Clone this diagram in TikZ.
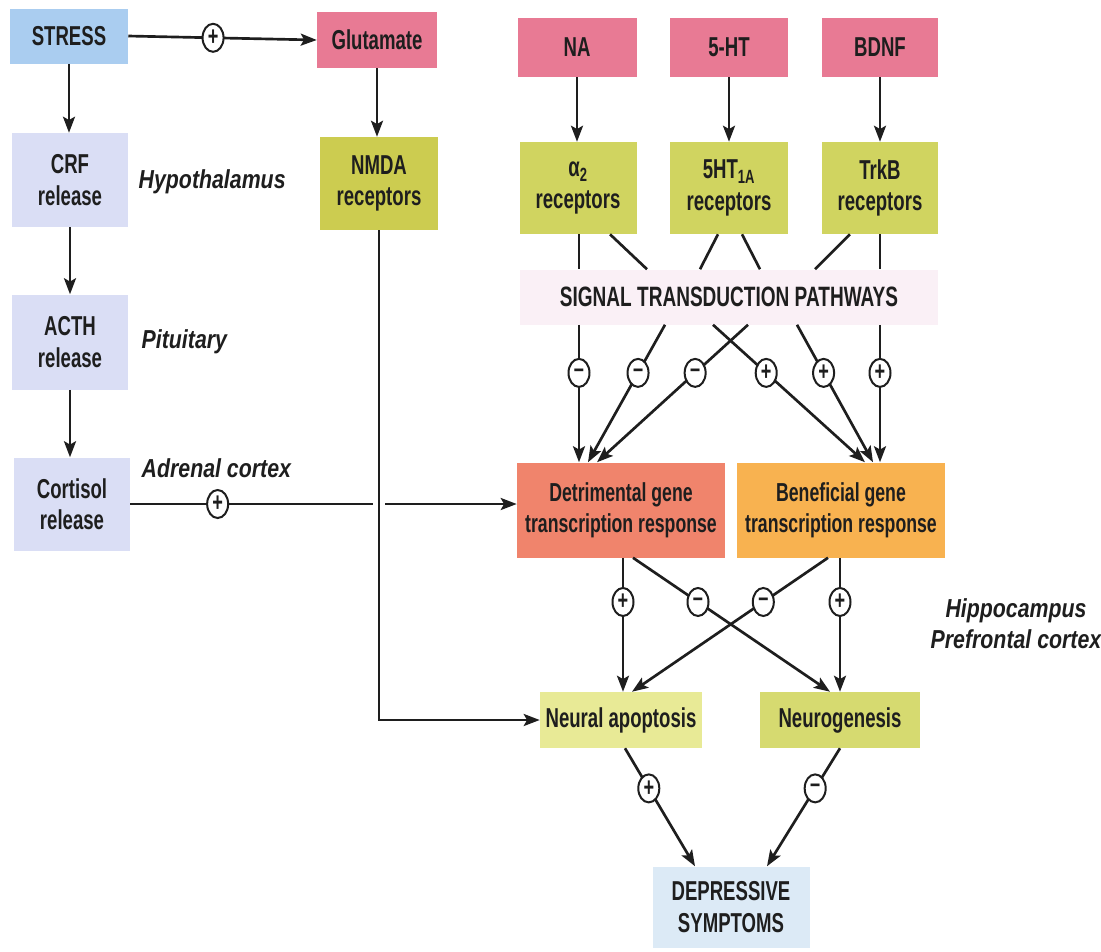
\documentclass[tikz,border=0pt]{standalone}
\usepackage{fontspec}
\setmainfont{Liberation Sans}
\newfontfamily\boxfont{Liberation Sans}[FakeStretch=0.68]
\newfontfamily\labfont{Liberation Sans}[FakeStretch=0.82]
\usetikzlibrary{arrows.meta,shapes.geometric,calc}
\definecolor{stressblue}{RGB}{170,205,240}
\definecolor{hpablue}{RGB}{218,222,245}
\definecolor{pinkred}{RGB}{232,122,148}
\definecolor{olivebox}{RGB}{204,204,80}
\definecolor{recgreen}{RGB}{208,212,96}
\definecolor{stppink}{RGB}{250,240,246}
\definecolor{detred}{RGB}{240,132,108}
\definecolor{benorange}{RGB}{248,178,80}
\definecolor{apopyel}{RGB}{232,234,150}
\definecolor{neurogreen}{RGB}{214,218,112}
\definecolor{depblue}{RGB}{220,234,246}
\definecolor{ink}{RGB}{30,30,30}
\begin{document}
\begin{tikzpicture}[x=0.75pt,y=-0.75pt,
 box/.style={draw=none, inner sep=0pt, align=center, text=ink, font=\boxfont\bfseries\fontsize{20.5}{23.5}\selectfont},
 genebox/.style={box, font=\boxfont\bfseries\fontsize{19.5}{23}\selectfont},
 wh/.style 2 args={minimum width={#1*0.75pt}, minimum height={#2*0.75pt}},
 lab/.style={text=ink, font=\labfont\bfseries\itshape\fontsize{19.5}{23}\selectfont, align=center},
 ln/.style={draw=ink, line width=2pt},
 arr/.style={ln, -{Stealth[length=12pt,width=9pt,inset=2.5pt]}},
 sgn/.style={ellipse, draw=ink, line width=1.5pt, fill=white, inner sep=0pt, minimum width={21*0.75pt}, minimum height={28*0.75pt}, text=ink, font=\boxfont\bfseries\fontsize{20}{20}\selectfont}
]
\fill[white] (0,0) rectangle (1101,951);
\useasboundingbox (0,0) rectangle (1101,951);

% boxes
\node[box, fill=stressblue, wh={118}{55}] (stress) at (69,36) {STRESS};
\node[box, fill=pinkred, wh={120}{56}] (glut) at (377,40) {Glutamate};
\node[box, fill=pinkred, wh={119}{59}] (na) at (577,47.5) {NA};
\node[box, fill=pinkred, wh={118}{59}] (fivht) at (729,47.5) {5-HT};
\node[box, fill=pinkred, wh={116}{59}] (bdnf) at (880,47.5) {BDNF};
\node[box, fill=hpablue, wh={116}{94}] (crf) at (70,180) {CRF\\release};
\node[box, fill=olivebox, wh={118}{93}] (nmda) at (379,183.5) {NMDA\\receptors};
\node[box, fill=recgreen, wh={117}{92}] (a2) at (578,188) {α\textsubscript{2}\\receptors};
\node[box, fill=recgreen, wh={118}{92}] (fivhta) at (729,188) {5HT\textsubscript{1A}\\receptors};
\node[box, fill=recgreen, wh={116}{92}] (trkb) at (880,188) {TrkB\\receptors};
\node[box, fill=stppink, wh={418}{55}, font=\boxfont\bfseries\fontsize{21}{24}\selectfont] (stp) at (729,297) {SIGNAL TRANSDUCTION PATHWAYS};
\node[box, fill=hpablue, wh={116}{95}] (acth) at (70,342) {ACTH\\release};
\node[box, fill=hpablue, wh={116}{93}] (cortisol) at (72,504) {Cortisol\\release};
\node[genebox, fill=detred, wh={208}{95}] (det) at (621,510) {Detrimental gene\\transcription response};
\node[genebox, fill=benorange, wh={208}{95}] (ben) at (841,510) {Beneficial gene\\transcription response};
\node[box, fill=apopyel, wh={162}{56}] (apop) at (621,720) {Neural apoptosis};
\node[box, fill=neurogreen, wh={160}{56}] (neuro) at (840,720) {Neurogenesis};
\node[box, fill=depblue, wh={157}{81}] (dep) at (731,907) {DEPRESSIVE\\SYMPTOMS};

% labels
\node[lab, anchor=west] (hyp) at (134,182) {Hypothalamus};
\node[lab, anchor=west] (pit) at (137,342) {Pituitary};
\node[lab, anchor=west] (adr) at (137,468) {Adrenal cortex};
\node[lab] (hip) at (1016,624) {Hippocampus\\Prefrontal cortex};

% HPA axis
\draw[arr] (stress.east) -- node[sgn, pos=0.45]{+} (glut.west);
\draw[arr] (stress.south) -- (crf.north -| stress.south);
\draw[arr] (crf.south) -- (acth.north);
\draw[arr] (acth.south) -- (acth.south |- cortisol.north);
\draw[arr] (glut.south) -- (nmda.north -| glut.south);

% transmitters to receptors
\draw[arr] (na.south) -- (a2.north -| na.south);
\draw[arr] (fivht.south) -- (fivhta.north);
\draw[arr] (bdnf.south) -- (trkb.north);

% NMDA to apoptosis, cortisol with hop
\coordinate (hop) at (cortisol.east -| nmda.south);
\draw[arr] (nmda.south) |- (apop.west);
\draw[ln] (cortisol.east) -- node[sgn, pos=0.36]{+} ($(hop)+(-6,0)$);
\draw[arr] ($(hop)+(6,0)$) -- (hop -| det.west);

% receptors to signal band
\draw[ln] ($(a2.south)+(1,0)$) -- ($(stp.north)+(-150,0)$);
\draw[ln] ($(a2.south)+(32,0)$) -- ($(stp.north)+(-82,0)$);
\draw[ln] ($(fivhta.south)+(-11,0)$) -- ($(stp.north)+(-29,0)$);
\draw[ln] ($(fivhta.south)+(13,0)$) -- ($(stp.north)+(31,0)$);
\draw[ln] ($(trkb.south)+(-30,0)$) -- ($(stp.north)+(86,0)$);
\draw[ln] (trkb.south) -- ($(stp.north)+(151,0)$);

% signal band to gene responses
\draw[arr] ($(stp.south)+(-150,0)$) -- node[sgn, pos=0.35]{–} ($(det.north)+(-42,0)$);
\draw[arr] ($(stp.south)+(-64,0)$) -- node[sgn, pos=0.35]{–} ($(det.north)+(-33,0)$);
\draw[arr] ($(stp.south)+(19,0)$) -- node[sgn, pos=0.35]{–} ($(det.north)+(-24,0)$);
\draw[arr] ($(stp.south)+(-16,0)$) -- node[sgn, pos=0.35]{+} ($(ben.north)+(24,0)$);
\draw[arr] ($(stp.south)+(68,0)$) -- node[sgn, pos=0.35]{+} ($(ben.north)+(32,0)$);
\draw[arr] ($(stp.south)+(151,0)$) -- node[sgn, pos=0.35]{+} ($(ben.north)+(39,0)$);

% gene responses to outcomes
\draw[arr] ($(det.south)+(2,0)$) -- node[sgn, pos=0.33]{+} ($(apop.north)+(2,0)$);
\draw[arr] ($(det.south)+(12,0)$) -- node[sgn, pos=0.33]{–} ($(neuro.north)+(-10,0)$);
\draw[arr] ($(ben.south)+(-13,0)$) -- node[sgn, pos=0.33]{–} ($(apop.north)+(11,0)$);
\draw[arr] ($(ben.south)+(-1,0)$) -- node[sgn, pos=0.33]{+} (neuro.north);

% outcomes to symptoms
\draw[arr] ($(apop.south)+(4,0)$) -- node[sgn, pos=0.34]{+} ($(dep.north)+(-36,0)$);
\draw[arr] (neuro.south) -- node[sgn, pos=0.34]{–} ($(dep.north)+(36,0)$);
\end{tikzpicture}
\end{document}
